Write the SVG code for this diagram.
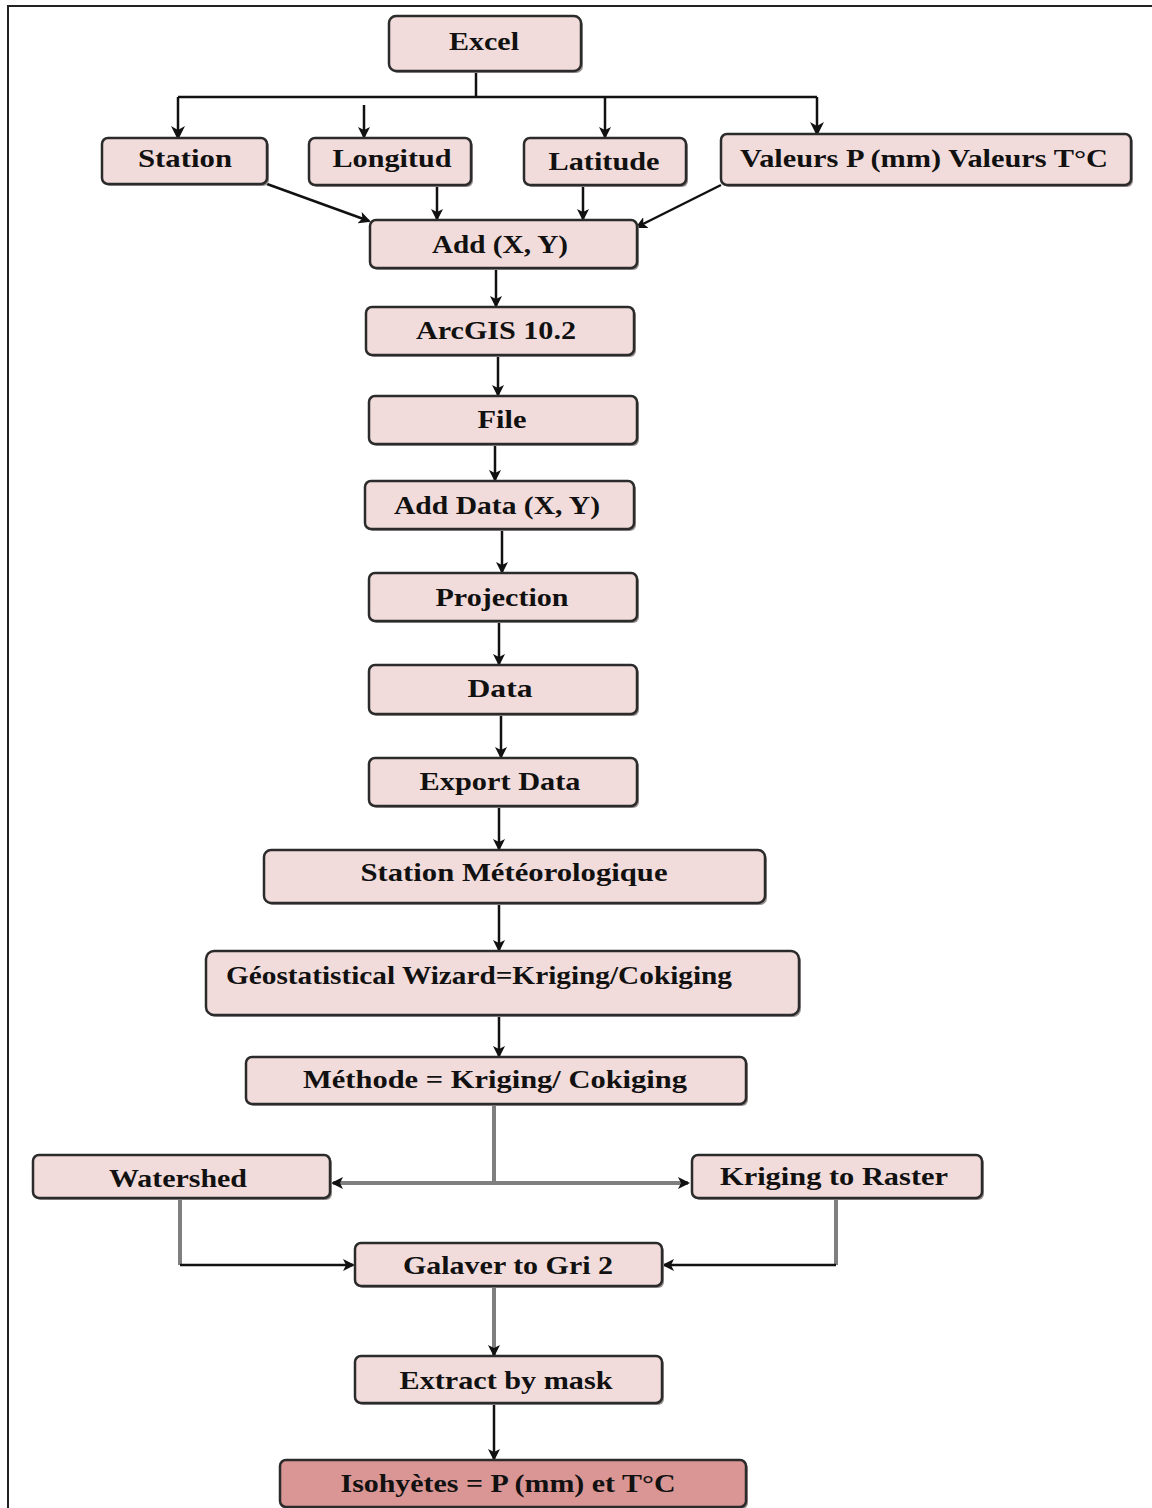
<svg xmlns="http://www.w3.org/2000/svg" width="1152" height="1508" viewBox="0 0 1152 1508">
<style>
.n rect.b{fill:#f2dcdb;stroke:#2b2b2b;stroke-width:2.5}
.n rect.s{fill:#9a9090;stroke:none}
.n text{font-family:"Liberation Serif","Times New Roman",serif;font-weight:bold;font-size:26px;fill:#111;text-anchor:middle}
.c{fill:none;stroke:#111;stroke-width:2.5}
.g{fill:none;stroke:#7f7f7f;stroke-width:4}
</style>
<defs>
<marker id="a" markerWidth="12" markerHeight="12" refX="10" refY="6" orient="auto" markerUnits="userSpaceOnUse">
<path d="M0,0 L12,6 L0,12 L3,6 Z" fill="#111"/>
</marker>
<marker id="ab" markerWidth="14" markerHeight="14" refX="12" refY="7" orient="auto" markerUnits="userSpaceOnUse">
<path d="M0,0 L14,7 L0,14 L4,7 Z" fill="#111"/>
</marker>
</defs>
<rect width="1152" height="1508" fill="#fff"/>
<path d="M8,1508 L8,6 L1152,6" fill="none" stroke="#222" stroke-width="2"/>

<g id="connectors">
<path class="c" d="M476,71 V97"/>
<path class="c" d="M178,97 H817" stroke-width="3.5"/>
<path class="c" d="M178,97 V138" stroke-width="4" marker-end="url(#ab)"/>
<path class="c" d="M364,105 V137" marker-end="url(#a)"/>
<path class="c" d="M605,97 V137" marker-end="url(#a)"/>
<path class="c" d="M817,97 V134" stroke-width="3.5" marker-end="url(#ab)"/>
<path class="c" d="M267,184 L369,221" marker-end="url(#a)"/>
<path class="c" d="M437,185 V219" marker-end="url(#a)"/>
<path class="c" d="M583,185 V219" marker-end="url(#a)"/>
<path class="c" d="M721,185 L637,227" marker-end="url(#a)"/>
<path class="c" d="M496,268 V306" marker-end="url(#a)"/>
<path class="c" d="M498,355 V395" marker-end="url(#a)"/>
<path class="c" d="M495,444 V480" marker-end="url(#a)"/>
<path class="c" d="M502,529 V572" marker-end="url(#a)"/>
<path class="c" d="M499,621 V664" marker-end="url(#a)"/>
<path class="c" d="M501,714 V757" marker-end="url(#a)"/>
<path class="c" d="M499,806 V849" marker-end="url(#a)"/>
<path class="c" d="M499,903 V950" marker-end="url(#a)"/>
<path class="c" d="M499,1015 V1056" marker-end="url(#a)"/>
<path class="g" d="M494,1104 V1183" stroke-width="2.5"/>
<path class="g" d="M494,1183 H333" marker-end="url(#a)"/>
<path class="g" d="M494,1183 H688" marker-end="url(#a)"/>
<path class="g" d="M180,1198 V1265" stroke-width="3"/>
<path class="c" d="M180,1265 H353" marker-end="url(#a)"/>
<path class="g" d="M836,1198 V1265" stroke-width="3"/>
<path class="c" d="M836,1265 H664" marker-end="url(#a)"/>
<path class="g" d="M494,1286 V1355" stroke-width="2.5" marker-end="url(#a)"/>
<path class="c" d="M494,1403 V1459" stroke-width="2" marker-end="url(#a)"/>
</g>

<g id="excel" class="n"><rect class="s" x="391" y="18" width="192" height="55" rx="7"/><rect class="b" x="389" y="16" width="192" height="55" rx="7"/><text x="484" y="50" textLength="70" lengthAdjust="spacingAndGlyphs">Excel</text></g>
<g id="station" class="n"><rect class="s" x="104" y="140" width="165" height="46" rx="6"/><rect class="b" x="102" y="138" width="165" height="46" rx="6"/><text x="185" y="167" textLength="94" lengthAdjust="spacingAndGlyphs">Station</text></g>
<g id="longitud" class="n"><rect class="s" x="311" y="140" width="162" height="47" rx="6"/><rect class="b" x="309" y="138" width="162" height="47" rx="6"/><text x="392" y="167" textLength="119" lengthAdjust="spacingAndGlyphs">Longitud</text></g>
<g id="latitude" class="n"><rect class="s" x="526" y="140" width="162" height="47" rx="6"/><rect class="b" x="524" y="138" width="162" height="47" rx="6"/><text x="604" y="170" textLength="111" lengthAdjust="spacingAndGlyphs">Latitude</text></g>
<g id="valeurs" class="n"><rect class="s" x="723" y="136" width="410" height="51" rx="6"/><rect class="b" x="721" y="134" width="410" height="51" rx="6"/><text x="924" y="167" textLength="368" lengthAdjust="spacingAndGlyphs">Valeurs P (mm) Valeurs T°C</text></g>
<g id="addxy" class="n"><rect class="s" x="372" y="222" width="267" height="48" rx="6"/><rect class="b" x="370" y="220" width="267" height="48" rx="6"/><text x="500" y="253" textLength="136" lengthAdjust="spacingAndGlyphs">Add (X, Y)</text></g>
<g id="arcgis" class="n"><rect class="s" x="368" y="309" width="268" height="48" rx="6"/><rect class="b" x="366" y="307" width="268" height="48" rx="6"/><text x="496" y="339" textLength="160" lengthAdjust="spacingAndGlyphs">ArcGIS 10.2</text></g>
<g id="file" class="n"><rect class="s" x="371" y="398" width="268" height="48" rx="6"/><rect class="b" x="369" y="396" width="268" height="48" rx="6"/><text x="502" y="428" textLength="49" lengthAdjust="spacingAndGlyphs">File</text></g>
<g id="adddata" class="n"><rect class="s" x="367" y="483" width="269" height="48" rx="6"/><rect class="b" x="365" y="481" width="269" height="48" rx="6"/><text x="497" y="514" textLength="206" lengthAdjust="spacingAndGlyphs">Add Data (X, Y)</text></g>
<g id="projection" class="n"><rect class="s" x="371" y="575" width="268" height="48" rx="6"/><rect class="b" x="369" y="573" width="268" height="48" rx="6"/><text x="502" y="606" textLength="133" lengthAdjust="spacingAndGlyphs">Projection</text></g>
<g id="data" class="n"><rect class="s" x="371" y="667" width="268" height="49" rx="6"/><rect class="b" x="369" y="665" width="268" height="49" rx="6"/><text x="500" y="697" textLength="65" lengthAdjust="spacingAndGlyphs">Data</text></g>
<g id="export" class="n"><rect class="s" x="371" y="760" width="268" height="48" rx="6"/><rect class="b" x="369" y="758" width="268" height="48" rx="6"/><text x="500" y="790" textLength="161" lengthAdjust="spacingAndGlyphs">Export Data</text></g>
<g id="stationmet" class="n"><rect class="s" x="266" y="852" width="501" height="53" rx="7"/><rect class="b" x="264" y="850" width="501" height="53" rx="7"/><text x="514" y="881" textLength="307" lengthAdjust="spacingAndGlyphs">Station Météorologique</text></g>
<g id="geo" class="n"><rect class="s" x="208" y="953" width="593" height="64" rx="8"/><rect class="b" x="206" y="951" width="593" height="64" rx="8"/><text x="226" y="984" style="text-anchor:start" textLength="506" lengthAdjust="spacingAndGlyphs">Géostatistical Wizard=Kriging/Cokiging</text></g>
<g id="methode" class="n"><rect class="s" x="248" y="1059" width="500" height="47" rx="6"/><rect class="b" x="246" y="1057" width="500" height="47" rx="6"/><text x="495" y="1088" textLength="384" lengthAdjust="spacingAndGlyphs">Méthode = Kriging/ Cokiging</text></g>
<g id="watershed" class="n"><rect class="s" x="35" y="1157" width="297" height="43" rx="6"/><rect class="b" x="33" y="1155" width="297" height="43" rx="6"/><text x="178" y="1187" textLength="138" lengthAdjust="spacingAndGlyphs">Watershed</text></g>
<g id="kriging" class="n"><rect class="s" x="694" y="1157" width="290" height="43" rx="6"/><rect class="b" x="692" y="1155" width="290" height="43" rx="6"/><text x="834" y="1185" textLength="228" lengthAdjust="spacingAndGlyphs">Kriging to Raster</text></g>
<g id="galaver" class="n"><rect class="s" x="357" y="1245" width="307" height="43" rx="6"/><rect class="b" x="355" y="1243" width="307" height="43" rx="6"/><text x="508" y="1274" textLength="210" lengthAdjust="spacingAndGlyphs">Galaver to Gri 2</text></g>
<g id="extract" class="n"><rect class="s" x="357" y="1358" width="307" height="47" rx="6"/><rect class="b" x="355" y="1356" width="307" height="47" rx="6"/><text x="506" y="1389" textLength="213" lengthAdjust="spacingAndGlyphs">Extract by mask</text></g>
<g id="isohyetes" class="n"><rect class="s" x="282" y="1462" width="466" height="47" rx="6"/><rect class="b" x="280" y="1460" width="466" height="47" rx="6" style="fill:#d99694"/><text x="508" y="1492" textLength="335" lengthAdjust="spacingAndGlyphs">Isohyètes = P (mm) et T°C</text></g>
</svg>
